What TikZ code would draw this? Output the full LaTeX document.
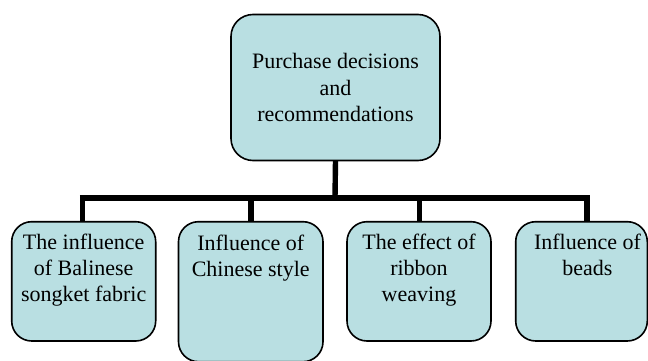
\documentclass[tikz,border=0pt]{standalone}
\usepackage{fontspec}
\setmainfont{Liberation Serif}
\definecolor{boxfill}{RGB}{185,223,226}
\begin{document}
\begin{tikzpicture}[x=1pt,y=-1pt,
  box/.style={draw=black, line width=1.6pt, fill=boxfill, inner sep=0pt, outer sep=0pt},
  link/.style={draw=black, line width=5.4pt},
  txt/.style={font=\fontsize{22}{26.2}\selectfont}]
\useasboundingbox (0,0) rectangle (648,361);
\node[box, rounded corners=22pt, minimum width=209pt, minimum height=146pt, align=center, txt]
  (top) at (335.5,87.5) {Purchase decisions\\and\\recommendations};
\node[box, rounded corners=20pt, anchor=north, txt] (b1) at (83.7,221.7)
  {\parbox[t][119.3pt][t]{144pt}{\centering\rule{0pt}{27.5pt}The influence\\of Balinese\\songket fabric}};
\node[box, rounded corners=20pt, anchor=north, txt] (b2) at (250.75,221.7)
  {\parbox[t][140pt][t]{144.5pt}{\centering\rule{0pt}{29pt}Influence of\\Chinese style}};
\node[box, rounded corners=20pt, anchor=north, txt] (b3) at (419,221.7)
  {\parbox[t][119.3pt][t]{144pt}{\centering\rule{0pt}{27.5pt}The effect of\\ribbon\\weaving}};
\node[box, rounded corners=20pt, anchor=north, txt] (b4) at (581.5,221.7)
  {\parbox[t][119.3pt][t]{131.6pt}{\centering\leftskip=12pt plus 1fil\rule{0pt}{27.5pt}Influence of\\beads}};
\coordinate (j) at (335,197.8);
\coordinate (j1) at (82.6,197.8);
\coordinate (j2) at (251,197.8);
\coordinate (j3) at (419.4,197.8);
\coordinate (j4) at (586.8,197.8);
\draw[link] (top.south) -- (j);
\draw[link] ([xshift=-2.7pt]j1) -- ([xshift=2.7pt]j4);
\draw[link] (j1) -- (j1 |- b1.north);
\draw[link] (j2) -- (j2 |- b2.north);
\draw[link] (j3) -- (j3 |- b3.north);
\draw[link] (j4) -- (j4 |- b4.north);
\end{tikzpicture}
\end{document}
